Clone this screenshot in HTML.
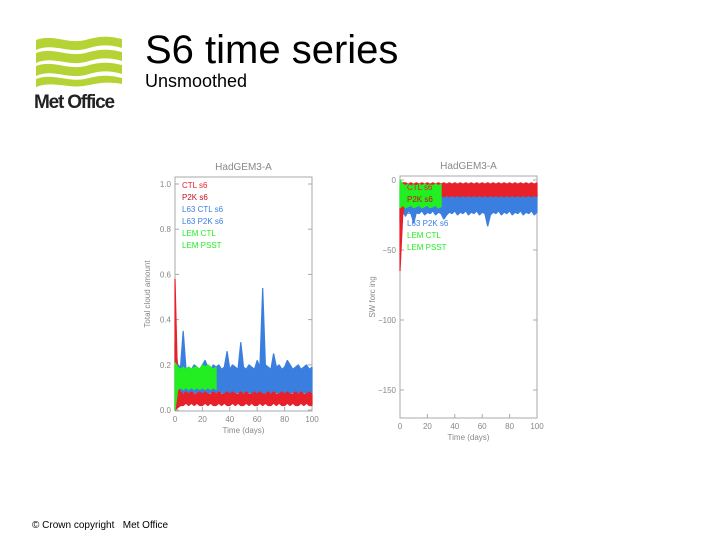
<!DOCTYPE html>
<html><head><meta charset="utf-8"><style>
body{margin:0;width:720px;height:540px;background:#fff;overflow:hidden;font-family:"Liberation Sans",sans-serif;position:relative}
.t{position:absolute;color:#000}
</style></head><body>
<svg style="position:absolute;left:34px;top:34px" width="90" height="55" viewBox="0 0 90 55">
<g fill="#b5d334">
<path d="M2 6 C20 -1,35 12,55 5 C70 1,80 3,88 5 L88 14 C78 11,68 10,55 14 C35 21,20 8,2 16 Z"/>
<path d="M2 19 C20 12,35 25,55 18 C70 14,80 16,88 18 L88 27 C78 24,68 23,55 27 C35 34,20 21,2 29 Z"/>
<path d="M2 32 C20 25,35 38,55 31 C70 27,80 29,88 31 L88 40 C78 37,68 36,55 40 C35 47,20 34,2 42 Z"/>
<path d="M2 45 C20 38,35 50,55 44 C70 40,80 42,88 44 L88 50 C78 48,68 48,55 51 C35 56,20 46,2 53 Z"/>
</g></svg>
<div class="t" style="left:34px;top:92px;font-size:19px;font-weight:bold;letter-spacing:-1.2px;color:#222">Met Office</div>
<div class="t" style="left:145px;top:28px;font-size:40px">S6 time series</div>
<div class="t" style="left:145px;top:71px;font-size:18px">Unsmoothed</div>
<div class="t" style="left:32px;top:520px;font-size:10px">© Crown copyright &nbsp; Met Office</div>
<svg id="c" style="position:absolute;left:0;top:0" width="720" height="540" font-family="Liberation Sans, sans-serif"></svg>
<script>
const ticksL=[0,0.2,0.4,0.6,0.8,1.0];
const tickLabelsL=["0.0","0.2","0.4","0.6","0.8","1.0"];
const ticksR=[0,-50,-100,-150];
const tickLabelsR=["0","−50","−100","−150"];
const xTicks=[0,20,40,60,80,100];
// upper / lower envelopes, sampled every 2 days
const redHiL=[0.58,0.1,0.08,0.07,0.08,0.07,0.08,0.07,0.07,0.08,0.07,0.08,0.07,0.07,0.08,0.07,0.08,0.07,0.07,0.08,0.07,0.08,0.07,0.07,0.08,0.07,0.08,0.07,0.07,0.08,0.07,0.08,0.07,0.07,0.08,0.07,0.08,0.07,0.07,0.08,0.07,0.08,0.07,0.07,0.08,0.07,0.08,0.07,0.07,0.08,0.07];
const redLoL=[0.0,0.01,0.02,0.02,0.03,0.02,0.03,0.02,0.03,0.02,0.02,0.03,0.02,0.03,0.02,0.02,0.03,0.02,0.03,0.02,0.02,0.03,0.02,0.03,0.02,0.02,0.03,0.02,0.03,0.02,0.02,0.03,0.02,0.03,0.02,0.02,0.03,0.02,0.03,0.02,0.02,0.03,0.02,0.03,0.02,0.02,0.03,0.02,0.03,0.02,0.02];
const blueHiL=[0.3,0.2,0.19,0.35,0.18,0.19,0.18,0.2,0.19,0.18,0.2,0.22,0.19,0.18,0.2,0.19,0.2,0.18,0.19,0.26,0.18,0.2,0.19,0.18,0.3,0.19,0.18,0.2,0.19,0.18,0.22,0.19,0.54,0.2,0.19,0.18,0.25,0.19,0.2,0.18,0.19,0.22,0.2,0.18,0.19,0.2,0.18,0.19,0.2,0.18,0.19];
const blueLoL=[0.0,0.08,0.06,0.08,0.07,0.08,0.04,0.08,0.07,0.08,0.07,0.08,0.07,0.08,0.07,0.08,0.07,0.08,0.07,0.08,0.07,0.06,0.07,0.08,0.07,0.08,0.07,0.08,0.07,0.08,0.07,0.08,0.06,0.08,0.07,0.08,0.07,0.08,0.07,0.08,0.07,0.08,0.07,0.08,0.07,0.08,0.07,0.08,0.07,0.08,0.07];
const greenHiL=[0.21,0.19,0.18,0.19,0.18,0.19,0.18,0.19,0.19,0.18,0.2,0.19,0.2,0.19,0.18,0.19];
const greenLoL=[0.0,0.09,0.1,0.09,0.1,0.09,0.1,0.09,0.1,0.09,0.1,0.09,0.1,0.09,0.1,0.09];
const redHiR=[-20,-2,-2,-3,-2,-3,-2,-3,-2,-3,-2,-3,-2,-3,-2,-3,-2,-3,-2,-3,-2,-3,-2,-3,-2,-3,-2,-3,-2,-3,-2,-3,-2,-3,-2,-3,-2,-3,-2,-3,-2,-3,-2,-3,-2,-3,-2,-3,-2,-3,-2];
const redLoR=[-65,-25,-12,-11,-12,-11,-12,-11,-12,-11,-12,-11,-12,-11,-12,-11,-12,-11,-12,-11,-12,-11,-12,-11,-12,-11,-12,-11,-12,-11,-12,-11,-12,-11,-12,-11,-12,-11,-12,-11,-12,-11,-12,-11,-12,-11,-12,-11,-12,-11,-12];
const blueHiR=[-5,-8,-9,-8,-9,-8,-9,-8,-9,-8,-9,-8,-9,-8,-9,-8,-9,-8,-9,-8,-9,-8,-9,-8,-9,-8,-9,-8,-9,-8,-9,-8,-9,-8,-9,-8,-9,-8,-9,-8,-9,-8,-9,-8,-9,-8,-9,-8,-9,-8,-9];
const blueLoR=[-30,-22,-26,-22,-24,-31,-23,-24,-22,-25,-23,-24,-22,-25,-23,-24,-28,-25,-23,-24,-22,-25,-23,-24,-22,-25,-23,-24,-22,-25,-23,-24,-33,-25,-23,-24,-22,-25,-23,-24,-22,-25,-23,-24,-22,-25,-23,-24,-22,-25,-23];
const greenHiR=[0,-3,-4,-3,-4,-3,-4,-3,-4,-3,-4,-3,-4,-3,-4,-3];
const greenLoR=[-20,-18,-20,-19,-18,-20,-19,-18,-20,-19,-18,-20,-19,-18,-20,-19];
const legend=["CTL s6","P2K s6","L63 CTL s6","L63 P2K s6","LEM CTL","LEM PSST"];
const legendColors=["#e8202a","#c8101a","#3a7fe0","#3a7fe0","#22ee22","#22ee22"];
const svg=document.getElementById('c');const NS="http://www.w3.org/2000/svg";
function mk(t,a,p){const e=document.createElementNS(NS,t);for(const k in a)e.setAttribute(k,a[k]);(p||svg).appendChild(e);return e;}
function chart(o){
 const g=mk('g',{});
 
 
 const X=d=>o.x0+d*(o.x1-o.x0)/100, Y=v=>o.yz+(v-o.v0)*o.ys;
 mk('rect',{x:o.x0,y:o.top,width:o.x1-o.x0,height:o.bot-o.top,fill:'none',stroke:'#aaa','stroke-width':1},g);
 const t=mk('text',{x:(o.x0+o.x1)/2,y:o.top-7,'text-anchor':'middle','font-size':10,fill:'#888'},g);t.textContent="HadGEM3-A";
 
 o.ticks.forEach((v,i)=>{const y=Y(v);mk('line',{x1:o.x0,x2:o.x0+4,y1:y,y2:y,stroke:'#aaa'},g);mk('line',{x1:o.x1,x2:o.x1-4,y1:y,y2:y,stroke:'#aaa'},g);
  const l=mk('text',{x:o.x0-4,y:y+3,'text-anchor':'end','font-size':8,fill:'#888'},g);l.textContent=o.labels[i];
  });
 xTicks.forEach(d=>{const x=X(d);mk('line',{x1:x,x2:x,y1:o.bot,y2:o.bot-4,stroke:'#aaa'},g);
  const l=mk('text',{x:x,y:o.bot+11,'text-anchor':'middle','font-size':8,fill:'#888'},g);l.textContent=d;
  });
 const xl=mk('text',{x:(o.x0+o.x1)/2,y:o.bot+22,'text-anchor':'middle','font-size':8,fill:'#888'},g);xl.textContent="Time (days)";
 
 const yx=o.x0-25,yy=(o.top+o.bot)/2;
 const yl=mk('text',{x:yx,y:yy,'text-anchor':'middle','font-size':8,fill:'#888',transform:`rotate(-90 ${yx} ${yy})`},g);yl.textContent=o.ytitle;
 
 const band=(hi,lo,col,nm)=>{
  const pts=[];hi.forEach((v,i)=>pts.push(X(i*2).toFixed(1)+','+Y(v).toFixed(1)));
  for(let i=lo.length-1;i>=0;i--)pts.push(X(i*2).toFixed(1)+','+Y(lo[i]).toFixed(1));
  const e=mk('polygon',{points:pts.join(' '),fill:col,stroke:col,'stroke-width':1.2,'stroke-linejoin':'bevel'},g);
  };
 band(o.blueHi,o.blueLo,'#3a7fe0','series-l63');band(o.redHi,o.redLo,'#e8202a','series-ctl');band(o.greenHi,o.greenLo,'#22ee22','series-lem');
 legend.forEach((s,i)=>{const l=mk('text',{x:o.x0+7,y:o.legTop+i*12,'font-size':8,fill:legendColors[i]},g);l.textContent=s;
  });
}
chart({name:'cloud-amount-chart',x0:175,x1:312,top:177,bot:411,yz:410,v0:0,ys:-226,ticks:ticksL,labels:tickLabelsL,ytitle:'Total cloud amount',redHi:redHiL,redLo:redLoL,blueHi:blueHiL,blueLo:blueLoL,greenHi:greenHiL,greenLo:greenLoL,legTop:188});
chart({name:'sw-forcing-chart',x0:400,x1:537,top:176,bot:418,yz:180,v0:0,ys:-1.4,ticks:ticksR,labels:tickLabelsR,ytitle:'SW forc ing',redHi:redHiR,redLo:redLoR,blueHi:blueHiR,blueLo:blueLoR,greenHi:greenHiR,greenLo:greenLoR,legTop:190});
</script>
</body></html>
